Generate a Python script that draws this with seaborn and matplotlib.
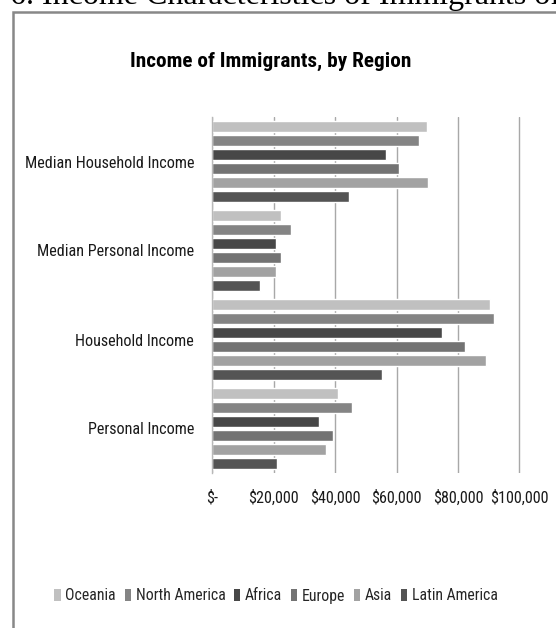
import matplotlib
matplotlib.use("Agg")
import matplotlib.pyplot as plt
import matplotlib.font_manager as fm
from matplotlib.patches import Rectangle, Patch
import seaborn as sns
import pandas as pd

# ---- data ----
categories = ["Median Household Income", "Median Personal Income",
              "Household Income", "Personal Income"]
regions = ["Oceania", "North America", "Africa", "Europe", "Asia", "Latin America"]
oceania = [70000, 22400, 90300, 40900]
north_america = [67200, 25500, 91800, 45400]
africa = [56500, 20800, 74900, 34800]
europe = [60900, 22500, 82400, 39200]
asia = [70200, 20800, 89100, 36900]
latin_america = [44400, 15400, 55300, 21200]
tick_values = [0, 20000, 40000, 60000, 80000, 100000]
tick_labels = ["$-", "$20,000", "$40,000", "$60,000", "$80,000", "$100,000"]
colors = ["#C0C0C0", "#848484", "#474747", "#737373", "#A2A2A2", "#545454"]

series = [oceania, north_america, africa, europe, asia, latin_america]
rows = []
for reg, vals in zip(regions, series):
    for cat, v in zip(categories, vals):
        rows.append({"category": cat, "region": reg, "value": v})
df = pd.DataFrame(rows)

sns.set_theme(style="white")
names = {f.name for f in fm.fontManager.ttflist}
narrow = None
for cand in ["Roboto Condensed", "Liberation Sans Narrow", "Open Sans Condensed",
             "Noto Sans Condensed", "DejaVu Sans Condensed"]:
    if cand in names:
        narrow = cand
        break
if narrow is None:
    narrow = "DejaVu Sans"
plt.rcParams["font.family"] = [narrow, "DejaVu Sans"]

W, H = 556, 628
fig = plt.figure(figsize=(W / 100, H / 100), dpi=100)
fig.patch.set_facecolor("white")

# axes placement (pixels)
x0, x1 = 212.3, 212.3 + 61.4 * 6
ytop, ybot = 117, 473
ax = fig.add_axes([x0 / W, 1 - ybot / H, (x1 - x0) / W, (ybot - ytop) / H])

sns.barplot(data=df, y="category", x="value", hue="region", orient="h",
            order=categories, hue_order=regions, palette=colors,
            width=0.94, gap=0.21, saturation=1, errorbar=None,
            legend=False, ax=ax)

ax.set_xlim(0, 120000)
ax.set_ylim(3.5, -0.5)
ax.set_xticks(tick_values)
ax.set_xticklabels(tick_labels)
ax.set_xlabel("")
ax.set_ylabel("")
ax.xaxis.grid(True, color="#A8A8A8", linewidth=1.0)
ax.yaxis.grid(False)
ax.set_axisbelow(True)
for s in ["top", "right", "bottom"]:
    ax.spines[s].set_visible(False)
ax.spines["left"].set_color("#B8B8B8")
ax.spines["left"].set_linewidth(1.0)
ax.tick_params(axis="both", length=0, labelsize=11.6, colors="#1a1a1a")
ax.tick_params(axis="y", pad=13)
ax.tick_params(axis="x", pad=12)

# chart area border
fig.add_artist(Rectangle((12.5 / W, -0.05), 1.2, 1 - 11.5 / H + 0.05,
                         transform=fig.transFigure, fill=False,
                         edgecolor="#888888", linewidth=1.8))

# clipped document heading at top (cut off in the original too)
fig.text(10 / W, 1 - 4 / H, "6. Income Characteristics of Immigrants of",
         family="Liberation Serif", fontsize=23, va="baseline", ha="left",
         color="black")

# chart title
fig.text(271 / W, 1 - 61 / H, "Income of Immigrants, by Region",
         fontsize=15.3, fontweight="bold", ha="center", va="center", color="black")

# legend
handles = [Patch(facecolor=c, edgecolor="none", label=r) for r, c in zip(regions, colors)]
fig.legend(handles=handles, loc="center", bbox_to_anchor=(276 / W, 1 - 596 / H),
           ncol=6, frameon=False, fontsize=11.3, handlelength=0.4,
           handleheight=0.85, handletextpad=0.3, columnspacing=0.55,
           borderaxespad=0, borderpad=0)

fig.savefig("out.png", dpi=100, facecolor="white")
